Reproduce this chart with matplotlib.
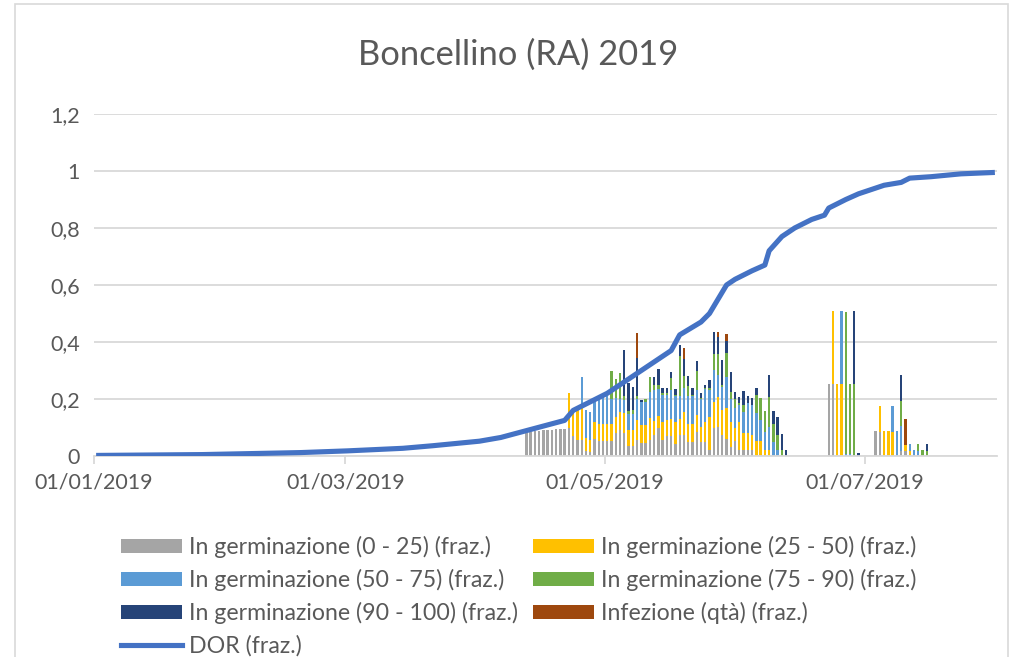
#plot.py
"""Boncellino (RA) 2019 - stacked daily germination bars with the DOR curve."""

import numpy as np
import pandas as pd
import matplotlib
matplotlib.use('Agg')
import matplotlib.pyplot as plt
import matplotlib.dates as dates
from matplotlib.patches import Patch, Rectangle
from matplotlib.lines import Line2D

plt.rcParams['font.family'] = ['Lato', 'DejaVu Sans']

#bar days: three clusters
bar_dates = (list(pd.date_range('2019-04-12', '2019-06-12'))
             + list(pd.date_range('2019-06-22', '2019-06-29'))
             + list(pd.date_range('2019-07-03', '2019-07-15')))

gray = [.080, .083, .086, .088, .090, .091, .092, .093, .094, .095,
        .10, .07, .056, .056, .018, .015, .06, .053, .053, .053,
        .053, .08, .091, .08, .036, .036, .056, .044, .044, .056,
        .074, .097, .056, .071, .071, .041, .074, .074, .05, .05,
        .085, .048, .048, .021, .097, .103, .074, .06, .033, .053,
        .021, .021, .021, .021, 0, 0, 0, 0, 0, 0, 0, 0,
        .253, .253, 0, 0, 0, 0, 0, 0,
        .088, .085, 0, 0, 0, 0, .019, .019, 0, 0, 0, 0, 0]

yellow = [0, 0, 0, 0, 0, 0, 0, 0, 0, 0,
          .122, .09, .114, .111, .044, .041, .058, .059, .059, .059,
          .06, .058, .065, .07, .055, .055, .07, .065, .065, .076,
          .049, .045, .062, .055, .059, .079, .056, .079, .061, .061,
          .059, .055, .072, .117, .093, .105, .087, .107, .087, .044,
          .099, .059, .059, .053, .053, .053, .021, .021, 0, 0, 0, 0,
          0, .256, .253, .253, 0, 0, 0, 0,
          0, .09, .088, .088, .085, 0, 0, .02, .019, 0, 0, 0, 0]

blue = [0, 0, 0, 0, 0, 0, 0, 0, 0, 0,
        0, 0, 0, .111, .099, .097, .078, .096, .102, .098,
        .087, .067, .044, .046, .055, .055, .074, .079, .079, .094,
        .109, .093, .096, .088, .102, .092, .08, .087, .101, .101,
        .088, .097, .115, .094, .112, .076, .082, .111, .08, .07,
        .059, .073, .107, .105, .097, .073, .062, .082, .05, .021, 0, 0,
        0, 0, 0, .256, .008, .008, 0, 0,
        0, 0, 0, 0, .09, .088, .086, 0, .023, .021, .019, 0, 0]

green = [0, 0, 0, 0, 0, 0, 0, 0, 0, 0,
         0, 0, 0, 0, 0, 0, 0, 0, 0, 0,
         .098, .065, .09, .014, .012, .014, .01, 0, .012, .052,
         .018, .015, .006, .006, .04, .003, .142, .04, .032, .003,
         .065, .005, .005, .008, .055, .073, .007, .082, .026, .033,
         .006, .026, 0, 0, .064, .079, .075, .105, .062, .053, .021, 0,
         0, 0, 0, 0, .497, .245, .253, 0,
         0, 0, 0, 0, 0, 0, .088, 0, 0, 0, .023, .021, .019]

navy = [0, 0, 0, 0, 0, 0, 0, 0, 0, 0,
        0, 0, 0, 0, 0, 0, 0, 0, 0, 0,
        0, 0, 0, .162, .097, .083, .133, .008, 0, 0,
        .028, .055, .02, .02, .024, .02, .038, .06, .038, .025,
        .036, .015, .01, .027, .077, .062, .087, .044, .07, .026,
        .023, .049, .023, .026, .026, 0, 0, .076, .046, .062, .056, .021,
        0, 0, 0, 0, 0, 0, .256, .01,
        0, 0, 0, 0, 0, 0, .091, 0, 0, 0, 0, 0, .023]

brown = [0, 0, 0, 0, 0, 0, 0, 0, 0, 0,
         0, 0, 0, 0, 0, 0, 0, 0, 0, 0,
         0, 0, 0, 0, 0, 0, .087, 0, 0, 0,
         0, 0, 0, 0, 0, 0, 0, .04, 0, 0,
         0, 0, 0, 0, 0, .015, 0, .023, 0, 0,
         0, 0, 0, 0, 0, 0, 0, 0, 0, 0, 0, 0,
         0, 0, 0, 0, 0, 0, 0, 0,
         0, 0, 0, 0, 0, 0, 0, .091, 0, 0, 0, 0, 0]

#DOR curve
dor_dates = ['2019-01-01', '2019-01-26', '2019-02-18', '2019-03-01', '2019-03-14',
             '2019-03-21', '2019-04-01', '2019-04-06', '2019-04-11', '2019-04-16',
             '2019-04-21', '2019-04-23', '2019-04-27', '2019-05-01', '2019-05-04',
             '2019-05-08', '2019-05-13', '2019-05-16', '2019-05-18', '2019-05-23',
             '2019-05-25', '2019-05-29', '2019-05-31', '2019-06-04', '2019-06-07',
             '2019-06-08', '2019-06-11', '2019-06-14', '2019-06-18', '2019-06-21',
             '2019-06-22', '2019-06-26', '2019-06-29', '2019-07-02', '2019-07-05',
             '2019-07-09', '2019-07-11', '2019-07-16', '2019-07-23', '2019-07-31']
dor = [.002, .005, .012, .018, .027, .036, .052, .065, .085, .105,
       .125, .16, .19, .22, .25, .29, .34, .37, .425, .47,
       .50, .60, .62, .65, .67, .72, .77, .80, .83, .845,
       .87, .90, .92, .935, .95, .96, .975, .98, .99, .995]

series = [
    ('In germinazione (0 - 25) (fraz.)', gray, '#A5A5A5'),
    ('In germinazione (25 - 50) (fraz.)', yellow, '#FFC000'),
    ('In germinazione (50 - 75) (fraz.)', blue, '#5B9BD5'),
    ('In germinazione (75 - 90) (fraz.)', green, '#70AD47'),
    ('In germinazione (90 - 100) (fraz.)', navy, '#264478'),
    ('Infezione (qtà) (fraz.)', brown, '#9E480E'),
]
dor_label = 'DOR (fraz.)'
dor_color = '#4472C4'
txt_color = '#595959'
grid_color = '#D9D9D9'

fig = plt.figure(figsize=(10.11, 6.57), dpi=100)
ax = fig.add_axes([94/1011, 1-456/657, (997-94)/1011, (456-114)/657])

#bars sit in the middle of their day
x = dates.date2num(pd.DatetimeIndex(bar_dates)) + 0.5
bottom = np.zeros(len(x))
for label, vals, col in series:
    vals = np.array(vals, dtype=float)
    ax.bar(x, vals, 0.55, bottom=bottom, color=col, linewidth=0, zorder=2)
    bottom += vals

xd = dates.date2num(pd.DatetimeIndex(pd.to_datetime(dor_dates))) + 0.5
ax.plot(xd, dor, color=dor_color, lw=3.7, solid_capstyle='butt',
        solid_joinstyle='round', zorder=3)

#axes formatting
x0 = dates.date2num(pd.Timestamp('2019-01-01'))
ax.set_xlim(x0, x0 + 212)
ax.set_ylim(0, 1.2)
yt = [0, 0.2, 0.4, 0.6, 0.8, 1.0, 1.2]
ax.set_yticks(yt)
ax.set_yticklabels(['0', '0,2', '0,4', '0,6', '0,8', '1', '1,2'])
ax.xaxis.set_major_locator(dates.MonthLocator(bymonth=[1, 3, 5, 7]))
ax.xaxis.set_major_formatter(dates.DateFormatter('%d/%m/%Y'))

ax.yaxis.grid(True, color=grid_color, lw=1.3, zorder=0)
ax.set_axisbelow(True)
for s in ['top', 'right', 'left']:
    ax.spines[s].set_visible(False)
ax.spines['bottom'].set_color(grid_color)
ax.spines['bottom'].set_linewidth(1.3)
ax.tick_params(axis='y', length=0, pad=10, labelsize=15.5, labelcolor=txt_color)
ax.tick_params(axis='x', length=6, width=1.3, color=grid_color, pad=6,
               labelsize=15.5, labelcolor=txt_color)

fig.text(518/1011, 1-55/657, 'Boncellino (RA) 2019', ha='center', va='center',
         fontsize=24.8, color=txt_color)

#legend, row-wise order in two columns
hd = [Patch(facecolor=c, edgecolor='none') for _, _, c in series]
lab = [l for l, _, _ in series]
dor_h = Line2D([], [], color=dor_color, lw=3.7)
handles = [hd[0], hd[2], hd[4], dor_h, hd[1], hd[3], hd[5]]
labels = [lab[0], lab[2], lab[4], dor_label, lab[1], lab[3], lab[5]]
leg = fig.legend(handles, labels, loc='upper left', ncol=2,
                 bbox_to_anchor=(121/1011, 1-536/657), frameon=False,
                 fontsize=16.7, handlelength=2.63, handleheight=0.6,
                 handletextpad=0.3, labelspacing=0.47, columnspacing=0.65,
                 borderpad=0, borderaxespad=0)
for t in leg.get_texts():
    t.set_color(txt_color)

#chart area frame
fig.patches.append(Rectangle((15/1011, -0.05), (1008-15)/1011, 1.05-4/657,
                             transform=fig.transFigure, fill=False,
                             edgecolor=grid_color, lw=1.2))

plt.savefig('out.png', dpi=100)
